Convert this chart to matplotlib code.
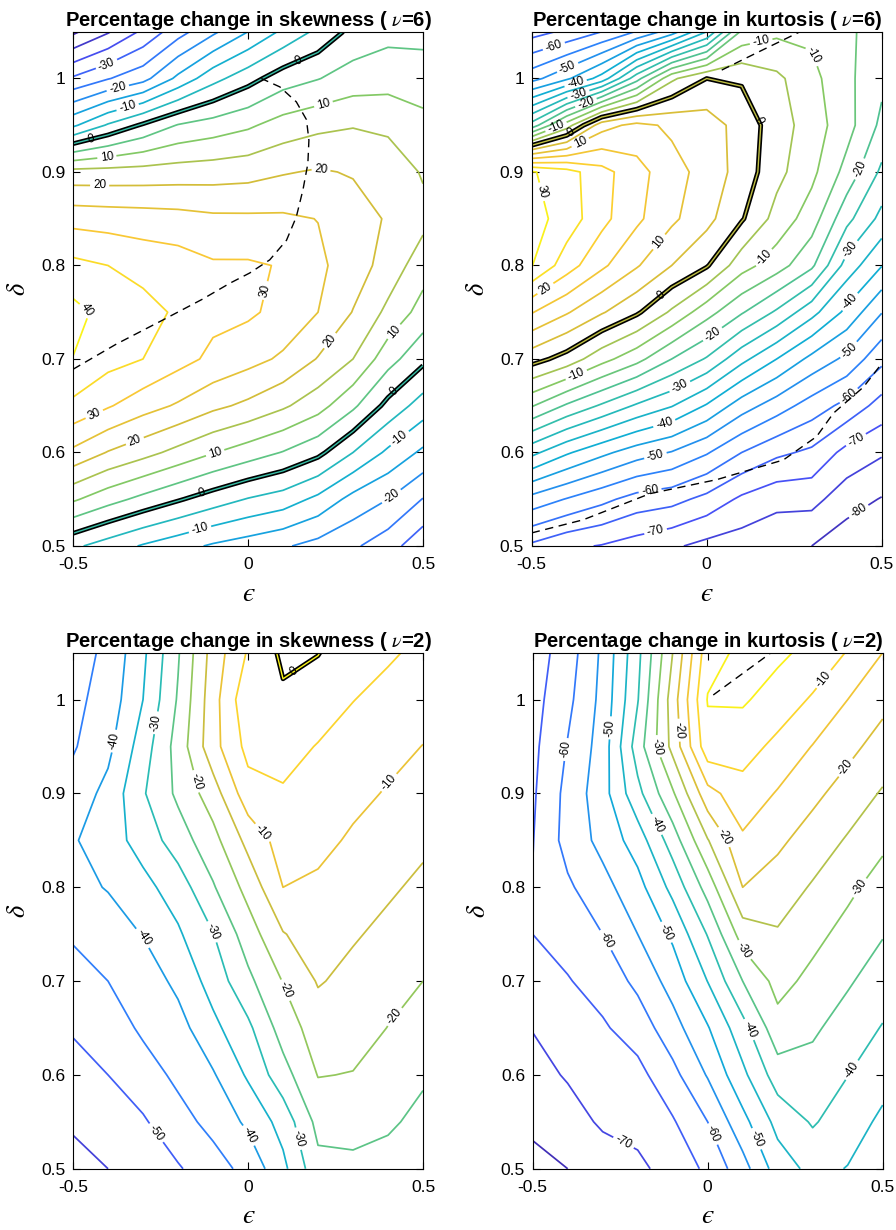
import numpy as np
import matplotlib
matplotlib.use("Agg")
import matplotlib.pyplot as plt
from matplotlib.colors import LinearSegmentedColormap, Normalize

plt.rcParams['font.family'] = ['Liberation Sans', 'DejaVu Sans']
plt.rcParams['mathtext.fontset'] = 'stix'
plt.rcParams['axes.unicode_minus'] = False

# grid
eps = [-0.5, -0.4, -0.3, -0.2, -0.1, 0.0, 0.1, 0.2, 0.3, 0.4, 0.5]
delta = [0.50, 0.55, 0.60, 0.65, 0.70, 0.75, 0.80, 0.85, 0.90, 0.95, 1.00, 1.05]

# each inner list is one eps column, values from delta=0.50 up to 1.05
skew6 = [
    [-4, 10.75, 23.9, 33.9, 39.9, 41.5, 36.4, 28.3, 16.7, -10.9, -29.3, -46],
    [-7.3, 6.9, 19.7, 30.5, 36.8, 38.3, 35, 27.8, 16.8, -4.4, -25.3, -40.5],
    [-10.5, 3.6, 16.75, 27.1, 35, 36.9, 33.2, 27.4, 17, 0.7, -21.7, -34],
    [-13.1, 0.5, 13.5, 24.4, 31.8, 34.2, 32.3, 26.9, 17.4, 5.3, -13.8, -27],
    [-15.7, -2.5, 10.25, 21.2, 28.9, 31.3, 30.6, 26, 17.7, 7.2, -6.7, -21],
    [-17.5, -5.3, 7.5, 18.9, 26.7, 30.8, 30.6, 25.9, 18.2, 9.2, -1.9, -15],
    [-19.4, -7.3, 4.75, 15.8, 24.2, 28.5, 29.7, 25.8, 19.6, 12.1, 2.7, -9],
    [-21.7, -11.25, 1.3, 12, 19.7, 25, 26, 24.9, 20.5, 13.75, 4.8, -3.8],
    [-24.2, -16.7, -5, 6, 15, 19.8, 22.5, 22.3, 19.6, 14.7, 7.2, 1.5],
    [-27.8, -20, -11, -1.5, 7, 13.8, 18, 19.5, 18.3, 13.9, 8, 3.5],
    [-33.5, -25.2, -16, -7.3, 1.2, 8, 12.2, 16.5, 14.5, 11.5, 7.4, 3.5],
]

kurt6 = [
    [-66, -51.8, -33.6, -14.6, 2, 15.3, 30.2, 32, 30.5, -23, -51.8, -67],
    [-69, -55.3, -39.3, -20.7, -2, 10.5, 22.3, 27.8, 27, -7.5, -45.9, -64],
    [-70.3, -58.6, -43.7, -25.7, -8.2, 5.5, 16, 21.5, 21.8, 8, -38, -60],
    [-72.3, -62, -47.6, -30.7, -13.3, 0.8, 10.5, 16, 16.8, 11.5, -22, -54.7],
    [-74.2, -63.3, -50.3, -34.7, -20, -5.8, 5, 11, 12, 9, -6, -47.5],
    [-76.5, -66.5, -54.5, -40.5, -25.5, -13, 0.5, 6.5, 8, 7.5, 0, -35],
    [-77.5, -71, -60, -47.6, -33.5, -19.5, -8, 0.5, 3, 3, -0.6, -14],
    [-78.5, -73.6, -63.9, -52.5, -40, -25.8, -12.7, -6.8, -3.5, -2.5, -3.9, -11],
    [-80, -73.4, -66, -57.3, -46.4, -33.3, -19, -12.5, -8.7, -7.5, -8.5, -11],
    [-83, -77.8, -71.6, -61.5, -51.2, -41.3, -32, -23.5, -16.7, -13, -13.8, -14.2],
    [-84, -80.3, -74.4, -67, -58.7, -49.8, -39.8, -31.5, -26, -21.2, -18.8, -17],
]

skew2 = [
    [-57, -54.2, -51.9, -49.5, -47, -44.4, -41.5, -40.5, -43, -45.5, -46.3, -47],
    [-55, -52.5, -50, -47.5, -45, -42.5, -39.7, -37.3, -38.5, -41.3, -43, -44],
    [-52.7, -50.6, -47.1, -44.2, -42.8, -39.8, -36.5, -33, -30.5, -32.5, -35, -36],
    [-50.5, -46.7, -44, -41.9, -38.8, -35.7, -32.6, -27.5, -24, -23, -24.5, -25.5],
    [-47, -43.6, -40.5, -36.3, -33, -30.2, -25.5, -21.7, -17.4, -11.8, -12, -12.9],
    [-43.5, -39, -34.3, -31.1, -26.2, -22.5, -18.3, -13.5, -7, -3.5, -1.2, -4.5],
    [-36.3, -33.1, -27, -22.8, -19.8, -15.3, -10, -7.8, -5.4, -3.6, -0.8, 1.0],
    [-26.5, -23.5, -19.8, -17.5, -14.6, -12.4, -10.9, -8.6, -6.9, -5.2, -3, 0.2],
    [-26, -23.5, -20.2, -17.9, -16.4, -14.5, -12.5, -10.7, -8.7, -6.8, -4.9, -3.5],
    [-27, -24.2, -22.1, -20.1, -18.2, -16.2, -14.3, -12.4, -10.4, -8.5, -6.4, -4.4],
    [-28.5, -26.4, -24.3, -22.1, -20, -18, -16, -14.1, -12.1, -10.1, -8, -6],
]

kurt2 = [
    [-76.5, -74, -71.9, -69.8, -67.3, -65, -64.8, -65.2, -65.7, -66.2, -66.8, -67.5],
    [-75, -72.3, -69.5, -67.4, -65.3, -63.2, -60.8, -58.2, -58.5, -59.7, -61.3, -62.5],
    [-73, -69.2, -67.3, -65.6, -63.1, -60, -56.7, -53.5, -52, -52.8, -53.5, -54],
    [-71, -68.5, -66.5, -62.8, -58.8, -55, -51.8, -47.6, -41.5, -37.5, -40.3, -41.4],
    [-68.2, -65.5, -61.5, -57, -53, -49.1, -43.5, -37.6, -30.7, -23.5, -22.5, -25],
    [-64, -60, -54.6, -50.4, -44.9, -39.7, -33, -25.3, -16.8, -6.8, -4.7, -7],
    [-57, -51.6, -46.2, -41.8, -35, -27.7, -20, -15.8, -11.9, -7.9, -4.4, -3.8],
    [-47.7, -43.4, -37.5, -31.8, -28.3, -25.5, -22.3, -19, -15.4, -11.3, -7.1, -4],
    [-43.5, -39.5, -36.9, -34.2, -31.4, -28.5, -25.5, -22.2, -18.8, -15.2, -10.6, -6.4],
    [-45.2, -42.6, -39.9, -37.2, -34.4, -31.7, -28.8, -25.5, -22.1, -18.6, -15, -10.3],
    [-49, -46, -43.2, -40.3, -37.5, -34.7, -32.2, -28.9, -25.5, -22, -18.6, -15],
]

# dashed curves
skew6_dash_eps = [-0.5, -0.376, -0.252, -0.13, -0.052, 0.005, 0.062, 0.11, 0.138,
                  0.157, 0.171, 0.174, 0.167, 0.138, 0.091, 0.038]
skew6_dash_delta = [0.689, 0.716, 0.740, 0.764, 0.781, 0.792, 0.806, 0.827, 0.852,
                    0.881, 0.909, 0.934, 0.956, 0.975, 0.991, 1.0]
kurt6_dash_top_eps = [0.043, 0.157, 0.267]
kurt6_dash_top_delta = [1.009, 1.030, 1.05]
kurt6_dash_low_eps = [-0.5, -0.353, -0.162, 0.029, 0.219, 0.314, 0.362, 0.448, 0.5]
kurt6_dash_low_delta = [0.514, 0.528, 0.556, 0.571, 0.592, 0.617, 0.642, 0.670, 0.695]
kurt2_dash_eps = [0.016, 0.181]
kurt2_dash_delta = [1.005, 1.05]

# parula-like colour map
parula = LinearSegmentedColormap.from_list('parula', [
    (0.2422, 0.1504, 0.6603), (0.2796, 0.3166, 0.9627), (0.1786, 0.5041, 0.9857),
    (0.0590, 0.6790, 0.8390), (0.1734, 0.7415, 0.6973), (0.4960, 0.7913, 0.4043),
    (0.8308, 0.7398, 0.2234), (0.9903, 0.7876, 0.2044), (0.9769, 0.9839, 0.0805)])

fig = plt.figure(figsize=(8.96, 12.3), dpi=100)


def panel(rect, data, lev, vmin, vmax, lab_pos, zero_pos, title, dashes):
    ax = fig.add_axes(rect)
    Z = np.array(data).T
    norm = Normalize(vmin, vmax)
    plain = [v for v in lev if v != 0 and v % 10 != 0]
    tens = [v for v in lev if v != 0 and v % 10 == 0]
    ax.contour(eps, delta, Z, levels=plain, cmap=parula, norm=norm, linewidths=1.25)
    cs = ax.contour(eps, delta, Z, levels=tens, cmap=parula, norm=norm, linewidths=1.25)
    ax.clabel(cs, manual=lab_pos, fmt='%d', fontsize=8.5, colors='k',
              inline=True, inline_spacing=3)
    if zero_pos is not None:
        z0 = ax.contour(eps, delta, Z, levels=[0], colors='k', linewidths=3.4)
        ax.contour(eps, delta, Z, levels=[0], colors=[parula(norm(0))], linewidths=1.0)
        ax.clabel(z0, manual=zero_pos, fmt='%d', fontsize=8.5, colors='k', inline=False)
    for de, dd in dashes:
        ax.plot(de, dd, color='k', lw=1.0, dashes=(6, 4))
    ax.set_xlim(-0.5, 0.5)
    ax.set_ylim(0.5, 1.05)
    ax.set_xticks([-0.5, 0, 0.5])
    ax.set_xticklabels(['-0.5', '0', '0.5'])
    ax.set_yticks([0.5, 0.6, 0.7, 0.8, 0.9, 1.0])
    ax.set_yticklabels(['0.5', '0.6', '0.7', '0.8', '0.9', '1'])
    ax.tick_params(direction='in', top=True, right=True, length=5, width=0.8,
                   labelsize=12.5)
    ax.tick_params(axis='x', pad=8)
    ax.tick_params(axis='y', pad=5.5)
    for s in ax.spines.values():
        s.set_linewidth(0.8)
    ax.set_xlabel('\u03f5', fontfamily='STIXGeneral', fontstyle='italic',
                  fontsize=20, labelpad=7)
    ax.set_ylabel(r'$\delta$', fontsize=19, labelpad=8)
    ax.set_title(title, fontsize=14.5, fontweight='bold', pad=4)
    return ax


panel([0.0815, 0.5561, 0.3906, 0.4181], skew6, np.arange(-45, 45, 5), -45, 42,
      [(-0.4, 1.011), (-0.371, 0.988), (-0.343, 0.968), (-0.405, 0.922), (-0.424, 0.883),
       (0.21, 0.98), (0.21, 0.906), (0.086, 0.77), (-0.467, 0.749), (-0.438, 0.64),
       (-0.324, 0.613), (-0.095, 0.601), (-0.138, 0.519), (0.243, 0.717), (0.424, 0.727),
       (0.438, 0.613), (0.414, 0.551)],
      [(-0.447, 0.934), (0.133, 1.027), (-0.133, 0.558), (0.424, 0.662)],
      r'Percentage change in skewness ( $\nu$=6)',
      [(skew6_dash_eps, skew6_dash_delta)])

panel([0.5934, 0.5561, 0.3906, 0.4181], kurt6, np.arange(-85, 35, 5), -85, 33,
      [(-0.438, 1.036), (-0.4, 1.014), (-0.376, 0.997), (-0.367, 0.984), (-0.343, 0.972),
       (-0.429, 0.947), (-0.367, 0.936), (0.157, 1.037), (0.314, 1.026), (-0.448, 0.881),
       (-0.119, 0.82), (0.438, 0.903), (0.171, 0.806), (0.41, 0.817), (-0.448, 0.768),
       (-0.376, 0.686), (0.029, 0.72), (-0.076, 0.67), (-0.124, 0.635), (-0.148, 0.599),
       (-0.162, 0.56), (-0.148, 0.519), (0.41, 0.761), (0.405, 0.71), (0.405, 0.661),
       (0.429, 0.612), (0.438, 0.535)],
      [(-0.39, 0.944), (0.167, 0.958), (-0.124, 0.765)],
      r'Percentage change in kurtosis ( $\nu$=6)',
      [(kurt6_dash_top_eps, kurt6_dash_top_delta), (kurt6_dash_low_eps, kurt6_dash_low_delta)])

panel([0.0815, 0.0498, 0.3906, 0.4195], skew2, np.arange(-60, 5, 5), -60, 1,
      [(-0.386, 0.956), (-0.257, 0.975), (-0.148, 0.913), (0.019, 0.851), (0.414, 0.908),
       (-0.3, 0.746), (-0.1, 0.753), (0.086, 0.687), (0.429, 0.659), (-0.252, 0.541),
       (0.005, 0.536), (0.143, 0.532)],
      [(0.12, 1.035)],
      r'Percentage change in skewness ( $\nu$=2)', [])

panel([0.5945, 0.0498, 0.3906, 0.4195], kurt2, np.arange(-80, 0, 5), -77, -3,
      [(-0.408, 0.947), (-0.281, 0.97), (-0.151, 0.95), (-0.055, 0.968), (-0.146, 0.867),
       (0.021, 0.847), (0.335, 1.021), (0.407, 0.924), (0.445, 0.797), (-0.289, 0.744),
       (-0.113, 0.753), (0.087, 0.728), (0.102, 0.646), (0.421, 0.603), (-0.222, 0.541),
       (0.021, 0.538), (0.14, 0.532)],
      None,
      r'Percentage change in kurtosis ( $\nu$=2)',
      [(kurt2_dash_eps, kurt2_dash_delta)])

fig.savefig('out.png', dpi=100)
